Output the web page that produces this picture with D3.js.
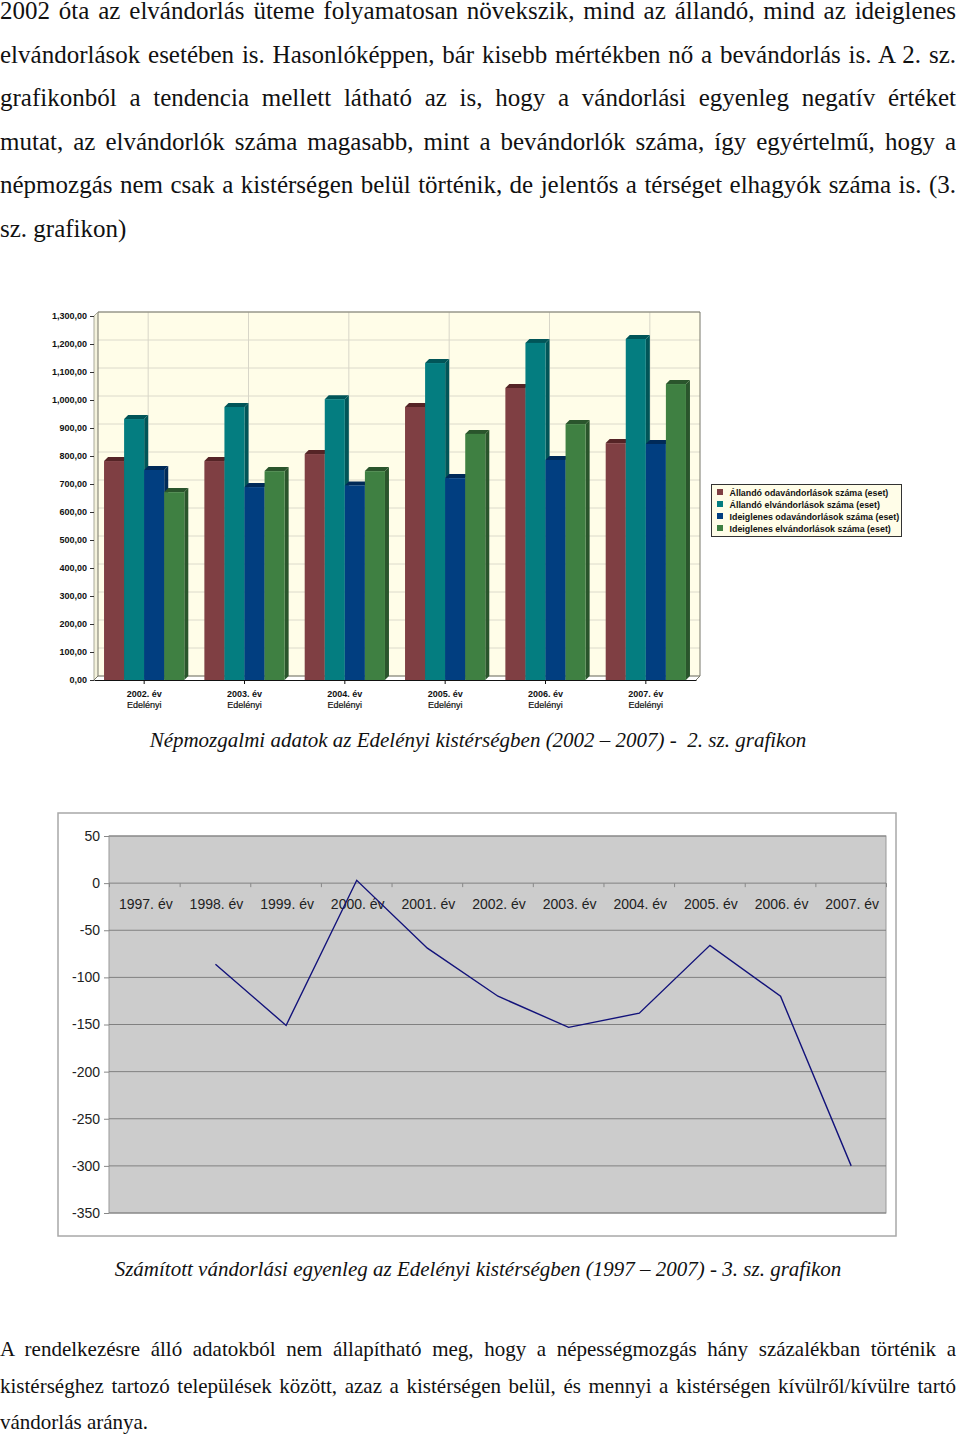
<!DOCTYPE html>
<html>
<head>
<meta charset="utf-8">
<script src="https://cdnjs.cloudflare.com/ajax/libs/d3/7.8.5/d3.min.js"></script>
<style>
html, body { margin: 0; padding: 0; background: #fff; }
svg { display: block; }
.body-text { font-family: "Liberation Serif", serif; fill: #111; }
.caption { font-family: "Liberation Serif", serif; font-style: italic; font-size: 21px; fill: #111; text-anchor: middle; white-space: pre; }
.bar-axis text { font-family: "Liberation Sans", sans-serif; font-size: 9px; font-weight: bold; fill: #111; }
.legend text { font-size: 8.9px; }
.line-axis text { font-family: "Liberation Sans", sans-serif; font-size: 14px; fill: #222; }
</style>
</head>
<body>
<svg id="page" width="960" height="1434"></svg>
<script>
// text of the page
var topLines = [
  "2002 óta az elvándorlás üteme folyamatosan növekszik, mind az állandó, mind az ideiglenes",
  "elvándorlások esetében is. Hasonlóképpen, bár kisebb mértékben nő a bevándorlás is. A 2. sz.",
  "grafikonból a tendencia mellett látható az is, hogy a vándorlási egyenleg negatív értéket",
  "mutat, az elvándorlók száma magasabb, mint a bevándorlók száma, így egyértelmű, hogy a",
  "népmozgás nem csak a kistérségen belül történik, de jelentős a térséget elhagyók száma is. (3.",
  "sz. grafikon)"
];
var bottomLines = [
  "A rendelkezésre álló adatokból nem állapítható meg, hogy a népességmozgás hány százalékban történik a",
  "kistérséghez tartozó települések között, azaz a kistérségen belül, és mennyi a kistérségen kívülről/kívülre tartó",
  "vándorlás aránya."
];
var caption1 = "Népmozgalmi adatok az Edelényi kistérségben (2002 – 2007) -  2. sz. grafikon";
var caption2 = "Számított vándorlási egyenleg az Edelényi kistérségben (1997 – 2007) - 3. sz. grafikon";

// bar chart data
var barYears = ["2002. év", "2003. év", "2004. év", "2005. év", "2006. év", "2007. év"];
var barPlace = "Edelényi";
var barSeries = [
  "Állandó odavándorlások száma (eset)",
  "Állandó elvándorlások száma (eset)",
  "Ideiglenes odavándorlások száma (eset)",
  "Ideiglenes elvándorlások száma (eset)"
];
var allandoOda = [782, 782, 807, 975, 1043, 846];
var allandoEl = [932, 975, 1003, 1132, 1204, 1218];
var ideiglenesOda = [750, 689, 695, 721, 786, 843];
var ideiglenesEl = [671, 746, 746, 879, 914, 1057];
var barValues = [allandoOda, allandoEl, ideiglenesOda, ideiglenesEl];
var barColors = ["#7f3f43", "#047d80", "#013e80", "#3f8042"];
var barTops = ["#552426", "#015558", "#002a58", "#2a552c"];
var barTicks = d3.range(0, 1301, 100);

// line chart data
var lineYears = ["1997. év", "1998. év", "1999. év", "2000. év", "2001. év", "2002. év", "2003. év", "2004. év", "2005. év", "2006. év", "2007. év"];
var lineValues = [null, -86, -151, 3, -69, -120, -153, -138, -66, -120, -300];
var lineTicks = [50, 0, -50, -100, -150, -200, -250, -300, -350];

var svg = d3.select("#page");

// justified paragraph, word-spacing worked out per line
function paragraph(lines, size, baselines, width) {
  lines.forEach(function(line, i) {
    var t = svg.append("text")
      .attr("class", "body-text")
      .attr("x", 0)
      .attr("y", baselines[i])
      .style("font-size", size + "px")
      .text(line);
    if (i < lines.length - 1) {
      var gaps = line.split(" ").length - 1;
      var extra = (width - t.node().getComputedTextLength()) / gaps;
      t.style("word-spacing", extra + "px");
    }
  });
}
paragraph(topLines, 25, [19, 62.5, 106, 149.5, 193, 236.5], 956);
paragraph(bottomLines, 21, [1356, 1392.5, 1429], 956);

svg.append("text").attr("class", "caption").attr("x", 478).attr("y", 747).text(caption1);
svg.append("text").attr("class", "caption").attr("x", 478).attr("y", 1276).text(caption2);

// ---- 2. grafikon, 3D look columns
var depth = 4;
var y1 = d3.scaleLinear().domain([0, 1300]).range([680, 316]);
var x0 = d3.scaleBand().domain(barYears).range([94, 696]).paddingInner(0.2).paddingOuter(0.1);
var x1 = d3.scaleBand().domain(d3.range(barSeries.length)).range([0, x0.bandwidth()]);
var plotL = x0.range()[0], plotR = x0.range()[1];

var wall = svg.append("g");
wall.append("rect")
  .attr("x", plotL + depth).attr("y", y1(1300) - depth)
  .attr("width", plotR - plotL).attr("height", y1(0) - y1(1300))
  .attr("fill", "#fffde8");
wall.append("path")
  .attr("d", "M" + plotL + "," + y1(0) + "L" + (plotL + depth) + "," + (y1(0) - depth) + "V" + (y1(1300) - depth) + "L" + plotL + "," + y1(1300) + "Z")
  .attr("fill", "#f4f2dc");
wall.selectAll(".hgrid").data(barTicks).enter().append("line")
  .attr("x1", plotL + depth).attr("x2", plotR + depth)
  .attr("y1", function(d) { return y1(d) - depth; })
  .attr("y2", function(d) { return y1(d) - depth; })
  .attr("stroke", "#dcdacb").attr("stroke-width", 1);
wall.selectAll(".vgrid").data(barYears).enter().append("line")
  .attr("x1", function(d) { return x0(d) + x0.bandwidth() / 2 + depth; })
  .attr("x2", function(d) { return x0(d) + x0.bandwidth() / 2 + depth; })
  .attr("y1", y1(1300) - depth).attr("y2", y1(0) - depth)
  .attr("stroke", "#d8d6c8").attr("stroke-width", 1);
// wall edges and floor
wall.append("path")
  .attr("d", "M" + (plotL + depth) + "," + (y1(0) - depth) + "V" + (y1(1300) - depth) + "H" + (plotR + depth) + "V" + (y1(0) - depth))
  .attr("fill", "none").attr("stroke", "#77776a").attr("stroke-width", 1);
wall.append("path")
  .attr("d", "M" + plotL + "," + y1(0) + "V" + y1(1300) + "L" + (plotL + depth) + "," + (y1(1300) - depth))
  .attr("fill", "none").attr("stroke", "#a9a99a").attr("stroke-width", 1);
wall.append("path")
  .attr("d", "M" + plotL + "," + y1(0) + "L" + (plotL + depth) + "," + (y1(0) - depth) + "H" + (plotR + depth) + "L" + plotR + "," + y1(0))
  .attr("fill", "none").attr("stroke", "#77776a").attr("stroke-width", 1);

var groups = svg.selectAll(".group").data(barYears).enter().append("g")
  .attr("class", "group")
  .attr("transform", function(d) { return "translate(" + x0(d) + ",0)"; });

barValues.forEach(function(values, s) {
  groups.each(function(d, i) {
    var g = d3.select(this);
    var bx = x1(s), bw = x1.bandwidth(), top = y1(values[i]), base = y1(0);
    g.append("path")
      .attr("d", "M" + (bx + bw) + "," + base + "V" + top + "l" + depth + "," + (-depth) + "V" + (base - depth) + "Z")
      .attr("fill", barTops[s]);
    g.append("path")
      .attr("d", "M" + bx + "," + top + "l" + depth + "," + (-depth) + "h" + bw + "l" + (-depth) + "," + depth + "Z")
      .attr("fill", barTops[s]);
    g.append("rect")
      .attr("x", bx).attr("y", top)
      .attr("width", bw).attr("height", base - top)
      .attr("fill", barColors[s]);
  });
});

var yAxis1 = d3.axisLeft(y1)
  .tickValues(barTicks)
  .tickSize(4)
  .tickPadding(3)
  .tickFormat(function(d) { return d3.format(",")(d) + ",00"; });
var yg1 = svg.append("g").attr("class", "bar-axis").attr("transform", "translate(" + plotL + ",0)").call(yAxis1);
yg1.select(".domain").remove();
yg1.selectAll("line").attr("stroke", "#333");

var xAxis1 = d3.axisBottom(x0).tickSize(4).tickSizeOuter(0).tickFormat("");
var xg1 = svg.append("g").attr("class", "bar-axis").attr("transform", "translate(0," + y1(0) + ")").call(xAxis1);
xg1.select(".domain").attr("stroke", "#111").attr("stroke-width", 1.2);
xg1.selectAll(".tick line").attr("stroke", "#111");
xg1.selectAll(".tick text").remove();
xg1.selectAll(".tick").each(function(d) {
  var t = d3.select(this).append("text").attr("text-anchor", "middle");
  t.append("tspan").attr("x", 0).attr("y", 17).text(d);
  t.append("tspan").attr("x", 0).attr("y", 28)
    .style("font-weight", "normal")
    .style("stroke", "#111").style("stroke-width", 0.2)
    .text(barPlace);
});

// legend
var legend = svg.append("g").attr("class", "bar-axis legend").attr("transform", "translate(711.5,484.5)");
legend.append("rect").attr("width", 190).attr("height", 52)
  .attr("fill", "#fffde8").attr("stroke", "#333").attr("stroke-width", 1);
var legendRow = legend.selectAll(".row").data(barSeries).enter().append("g")
  .attr("class", "row")
  .attr("transform", function(d, i) { return "translate(0," + (8 + i * 12) + ")"; });
legendRow.append("rect")
  .attr("x", 5.5).attr("y", -3.5).attr("width", 6).attr("height", 6)
  .attr("fill", function(d, i) { return barColors[i]; });
legendRow.append("text")
  .attr("x", 18).attr("y", 3.5)
  .text(function(d) { return d; });

// ---- 3. grafikon, line
svg.append("rect").attr("x", 58).attr("y", 813).attr("width", 838).attr("height", 423)
  .attr("fill", "#fff").attr("stroke", "#a8a8a8").attr("stroke-width", 1.5);

var y2 = d3.scaleLinear().domain([-350, 50]).range([1213, 836]);
var x2 = d3.scaleBand().domain(lineYears).range([109.5, 886.5]);

svg.append("rect").attr("x", 109).attr("y", 836).attr("width", 777).attr("height", 377)
  .attr("fill", "#cccccc").attr("stroke", "#999").attr("stroke-width", 1);

// plain hyphen on the negative labels, as in the original
var yAxis2 = d3.axisLeft(y2).tickValues(lineTicks).tickSize(5).tickPadding(4).tickFormat(String);
var yg2 = svg.append("g").attr("class", "line-axis").attr("transform", "translate(109,0)").call(yAxis2);
yg2.select(".domain").remove();
yg2.selectAll("line").attr("stroke", "#888");

svg.selectAll(".hline").data(lineTicks).enter().append("line")
  .attr("x1", 109).attr("x2", 886)
  .attr("y1", function(d) { return y2(d); })
  .attr("y2", function(d) { return y2(d); })
  .attr("stroke", "#808080").attr("stroke-width", 1);

var xAxis2 = d3.axisBottom(x2).tickSize(0).tickPadding(14);
var xg2 = svg.append("g").attr("class", "line-axis").attr("transform", "translate(0," + y2(0) + ")").call(xAxis2);
xg2.select(".domain").remove();
xg2.selectAll(".tick text").attr("dx", "1").attr("dy", "0.87em");

// category separators hang under the zero line
svg.selectAll(".catTick").data(d3.range(lineYears.length + 1)).enter().append("line")
  .attr("x1", function(d) { return x2.range()[0] + d * x2.step(); })
  .attr("x2", function(d) { return x2.range()[0] + d * x2.step(); })
  .attr("y1", y2(0)).attr("y2", y2(0) + 4)
  .attr("stroke", "#888");

var line = d3.line()
  .defined(function(d) { return d !== null; })
  .x(function(d, i) { return x2(lineYears[i]) + x2.bandwidth() / 2; })
  .y(function(d) { return y2(d); });
svg.append("path")
  .attr("d", line(lineValues))
  .attr("fill", "none")
  .attr("stroke", "#12127a")
  .attr("stroke-width", 1.4);
</script>
</body>
</html>
